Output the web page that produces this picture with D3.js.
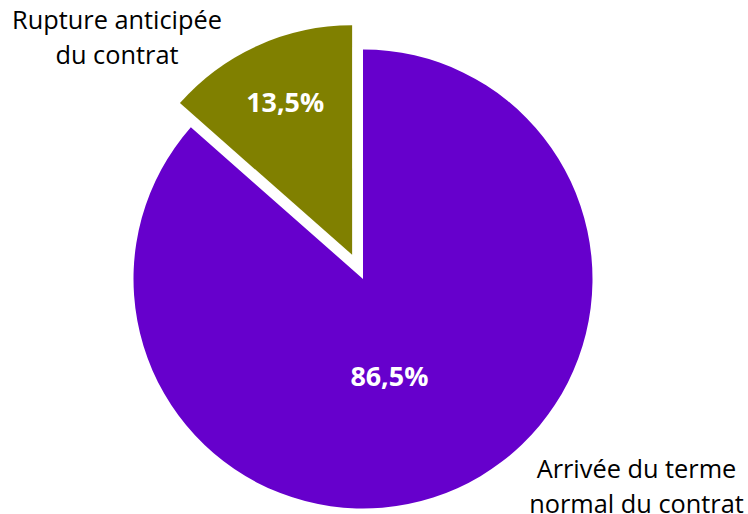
<!DOCTYPE html>
<html><head><meta charset="utf-8">
<script src="https://cdn.jsdelivr.net/npm/d3@7"></script>
<style>body{margin:0;background:#fff}svg{display:block}</style>
</head><body>
<svg id="c" width="748" height="514"></svg>
<script>
const categories = ["Rupture anticipée du contrat", "Arrivée du terme normal du contrat"];
const values = [13.5, 86.5];
const valueLabels = ["13,5%", "86,5%"];
const colors = ["#808000", "#6600CC"];

const svg = d3.select("#c");
const cx = 363, cy = 279, R = 229.5, explode = 26.5;
const font = "'Open Sans', Lato, sans-serif";

const pie = d3.pie().sort(null).startAngle(-2*Math.PI*values[0]/100).endAngle(2*Math.PI - 2*Math.PI*values[0]/100);
const arcs = pie(values);
const arc = d3.arc().innerRadius(0).outerRadius(R);

function fitSize(text, weight, targetW) {
  const t = svg.append("text").attr("font-family", font).attr("font-weight", weight)
    .attr("font-size", 20).text(text);
  const w = t.node().getComputedTextLength();
  t.remove();
  return 20 * targetW / w;
}

const valSize = fitSize(valueLabels[0], "bold", 78);
const g = svg.append("g").attr("transform", `translate(${cx},${cy})`);
arcs.forEach((a, i) => {
  const mid = (a.startAngle + a.endAngle) / 2;
  const off = i === 0 ? explode : 0;
  const ox = Math.sin(mid) * off, oy = -Math.cos(mid) * off;
  const sg = g.append("g").attr("transform", `translate(${ox},${oy})`);
  sg.append("path").attr("d", arc(a)).attr("fill", colors[i]);
  let lr, ang;
  if (i === 0) { lr = R * 0.725; ang = mid + 0.01; }
  else { lr = R * 0.44; ang = mid + 0.16; }
  sg.append("text")
    .attr("x", Math.sin(ang) * lr).attr("y", -Math.cos(ang) * lr + valSize * 0.36)
    .attr("text-anchor", "middle")
    .attr("font-family", font).attr("font-weight", "bold").attr("font-size", valSize)
    .attr("fill", "#fff").text(valueLabels[i]);
});

// category labels
const catLines = [["Rupture anticipée", "du contrat"], ["Arrivée du terme", "normal du contrat"]];
const catPos = [[117, 28.5], [636.5, 477.5]];
const catSize = fitSize("Rupture anticipée", "normal", 210);
catLines.forEach((lines, i) => {
  const t = svg.append("text").attr("text-anchor", "middle")
    .attr("font-family", font).attr("font-size", catSize).attr("fill", "#000");
  lines.forEach((l, j) => {
    t.append("tspan").attr("x", catPos[i][0]).attr("y", catPos[i][1] + j * 35).text(l);
  });
});
</script>
</body></html>
